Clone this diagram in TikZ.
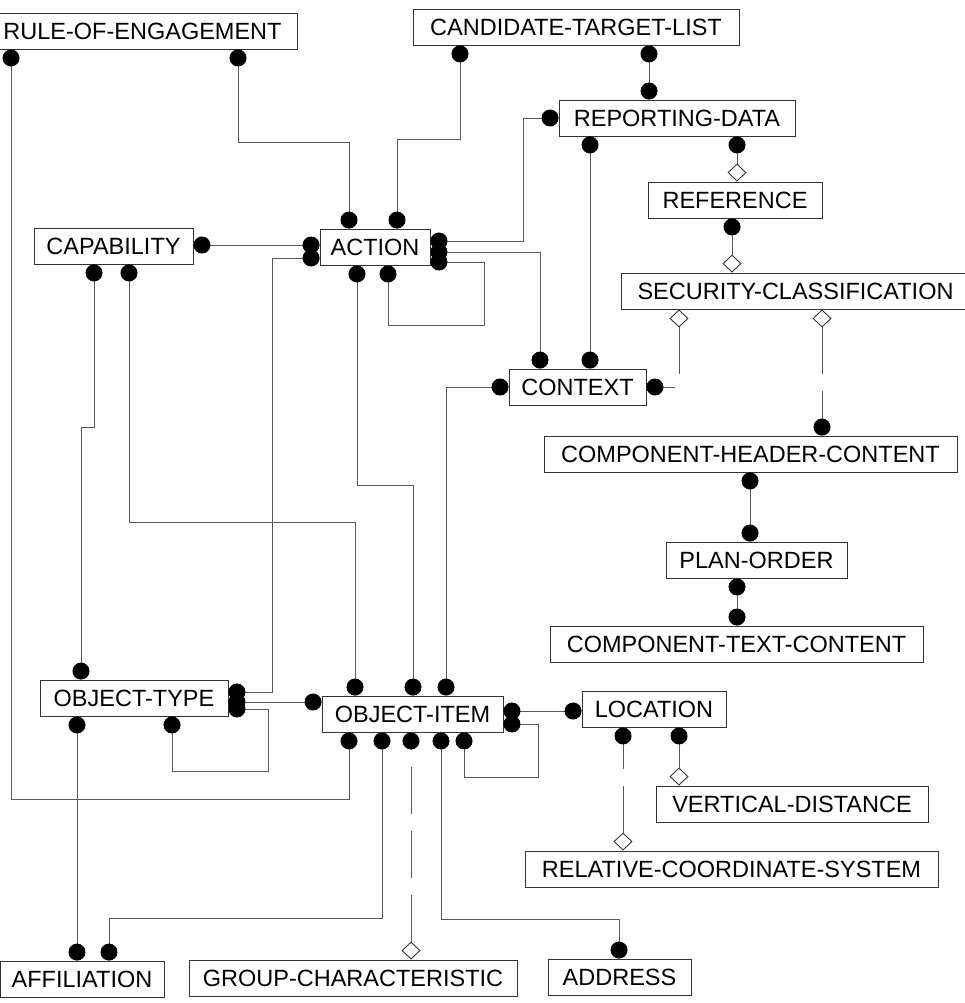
\documentclass[tikz,border=0pt]{standalone}
\usepackage{fontspec}
\setmainfont{Liberation Sans}
\usetikzlibrary{arrows.meta}

\tikzset{
  ball/.tip={Circle[length=17pt, width=17pt, color=black]},
  lozenge/.tip={Diamond[open, length=18pt, width=19pt, color=black!80, line width=0.9pt]}
}

\begin{document}
\begin{tikzpicture}[x=1pt, y=-1pt,
    entity/.style={rectangle, draw=black!80, line width=0.9pt, minimum height=36pt, inner sep=0pt, font=\fontsize{23.5}{28}\selectfont},
    rel/.style={draw=black!65, line width=0.9pt, ball-ball},
    subrel/.style={draw=black!65, line width=0.9pt, ball-lozenge},
    optrel/.style={draw=black!65, line width=0.9pt, dash pattern=on 47pt off 17pt, lozenge-ball}
]

\useasboundingbox (0,0) rectangle (964,1003);

\node[entity, minimum width=309pt] (roe) at (142.5,31) {RULE-OF-ENGAGEMENT};
\node[entity, minimum width=326pt] (ctl) at (576,27) {CANDIDATE-TARGET-LIST};
\node[entity, minimum width=236pt] (rd) at (677,118) {REPORTING-DATA};
\node[entity, minimum width=174pt] (ref) at (735,200) {REFERENCE};
\node[entity, minimum width=159pt] (cap) at (113.5,246) {CAPABILITY};
\node[entity, minimum width=110pt] (act) at (375,247) {ACTION};
\node[entity, minimum width=349pt] (sc) at (795.5,291) {SECURITY-CLASSIFICATION};
\node[entity, minimum width=137pt] (ctx) at (577.5,387) {CONTEXT};
\node[entity, minimum width=413pt] (chc) at (750.5,454) {COMPONENT-HEADER-CONTENT};
\node[entity, minimum width=181pt] (po) at (756.5,560) {PLAN-ORDER};
\node[entity, minimum width=373pt] (ctc) at (736.5,644) {COMPONENT-TEXT-CONTENT};
\node[entity, minimum width=188pt] (ot) at (134,698) {OBJECT-TYPE};
\node[entity, minimum width=181pt] (oi) at (412.5,714) {OBJECT-ITEM};
\node[entity, minimum width=144pt] (loc) at (654,709) {LOCATION};
\node[entity, minimum width=272pt] (vd) at (792,804) {VERTICAL-DISTANCE};
\node[entity, minimum width=413pt] (rcs) at (731.5,869) {RELATIVE-COORDINATE-SYSTEM};
\node[entity, minimum width=164pt] (aff) at (82,979) {AFFILIATION};
\node[entity, minimum width=328pt] (gc) at (353,978) {GROUP-CHARACTERISTIC};
\node[entity, minimum width=143pt] (addr) at (619.5,977) {ADDRESS};

\draw[rel] (roe.south -| 11,0) |- (349,799) -- (oi.south -| 349,0);
\draw[rel] (roe.south -| 238,0) |- (349,142) -- (act.north -| 349,0);
\draw[rel] (ctl.south -| 460,0) |- (397,139) -- (act.north -| 397,0);
\draw[rel] (ctl.south -| 649,0) -- (rd.north -| 649,0);
\draw[rel] (rd.west) -| (523,241) -- (act.east |- 0,241);
\draw[rel] (act.east |- 0,252) -| (ctx.north -| 540,0);
\draw[rel] (act.east |- 0,262) -| (484,325) -| (act.south -| 388,0);
\draw[rel] (rd.south -| 590,0) -- (ctx.north -| 590,0);
\draw[subrel] (rd.south -| 737,0) -- (ref.north -| 737,0);
\draw[subrel] (ref.south -| 732,0) -- (sc.north -| 732,0);
\draw[optrel] (sc.south -| 679,0) |- (ctx.east);
\draw[optrel] (sc.south -| 822,0) -- (chc.north -| 822,0);
\draw[rel] (chc.south -| 750,0) -- (po.north -| 750,0);
\draw[rel] (po.south -| 737,0) -- (ctc.north -| 737,0);
\draw[rel] (cap.east |- 0,245) -- (act.west |- 0,245);
\draw[rel] (act.west |- 0,258) -| (272,692) -- (ot.east |- 0,692);
\draw[rel] (cap.south -| 94,0) |- (81,427) -- (ot.north -| 81,0);
\draw[rel] (cap.south -| 129,0) |- (355,522) -- (oi.north -| 355,0);
\draw[rel] (act.south -| 357,0) |- (413,485) -- (oi.north -| 413,0);
\draw[rel] (ctx.west) -| (oi.north -| 446,0);
\draw[rel] (ot.east |- 0,702) -- (oi.west |- 0,702);
\draw[rel] (ot.east |- 0,709) -| (268,771) -| (ot.south -| 172,0);
\draw[rel] (ot.south -| 77,0) -- (aff.north -| 77,0);
\draw[rel] (aff.north -| 109,0) |- (382,918) -- (oi.south -| 382,0);
\draw[optrel] (gc.north -| 411,0) -- (oi.south -| 411,0);
\draw[rel] (oi.south -| 441,0) |- (619,919) -- (addr.north -| 619,0);
\draw[rel] (oi.south -| 464,0) |- (538,777) |- (oi.east |- 0,724);
\draw[rel] (oi.east |- 0,711) -- (loc.west |- 0,711);
\draw[optrel] (rcs.north -| 623,0) -- (loc.south -| 623,0);
\draw[subrel] (loc.south -| 679,0) -- (vd.north -| 679,0);

\end{tikzpicture}
\end{document}
